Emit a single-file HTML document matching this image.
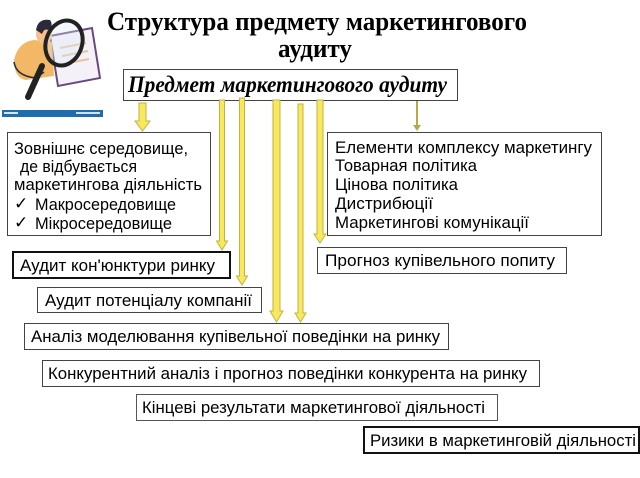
<!DOCTYPE html>
<html><head><meta charset="utf-8"><style>
html,body{margin:0;padding:0;background:#fff;}
svg{display:block;}
.t{font-family:"Liberation Sans","DejaVu Sans",sans-serif;font-size:17px;fill:#000;}
.s{font-family:"Liberation Sans","DejaVu Sans",sans-serif;font-size:16.5px;fill:#000;}
.ar{fill:#f8e95c;stroke:#c2b248;stroke-width:1;}
</style></head><body>
<svg width="640" height="478" viewBox="0 0 640 478" xmlns="http://www.w3.org/2000/svg">
<!-- illustration -->
<g>
  <polygon points="50,36 92,28 100,78 58,86" fill="#f4f2f8" stroke="#6a4a7a" stroke-width="2"/>
  <line x1="60" y1="48" x2="86" y2="43" stroke="#e8c49a" stroke-width="2"/>
  <line x1="62" y1="56" x2="88" y2="51" stroke="#e8c49a" stroke-width="2"/>
  <line x1="63" y1="64" x2="89" y2="59" stroke="#e8c49a" stroke-width="2"/>
  <path d="M14,60 Q18,42 34,40 L52,42 L54,76 L26,80 Q14,78 14,60 Z" fill="#f2b866"/>
  <path d="M14,62 Q16,76 36,78 L44,72" fill="none" stroke="#2a2a3a" stroke-width="1.5"/>
  <ellipse cx="44" cy="34" rx="8" ry="10" fill="#f5c08a"/>
  <path d="M36,30 Q38,18 50,20 Q54,26 48,30 Q44,28 42,34 Z" fill="#2a2a3a"/>
  <line x1="42" y1="66" x2="28" y2="97" stroke="#222" stroke-width="6" stroke-linecap="round"/>
  <ellipse cx="64" cy="43" rx="18" ry="23" transform="rotate(20 64 43)" fill="rgba(220,235,245,0.35)" stroke="#222" stroke-width="4"/>
  <rect x="2" y="110" width="101" height="7" fill="#1f6ea8"/>
  <rect x="4" y="112" width="14" height="2" fill="#cfe2f0"/>
  <rect x="76" y="112" width="24" height="2" fill="#cfe2f0"/>
</g>
<!-- title -->
<text x="317" y="30" text-anchor="middle" textLength="420" lengthAdjust="spacingAndGlyphs" font-family="'Liberation Serif',serif" font-weight="bold" font-size="26">Структура предмету маркетингового</text>
<text x="315" y="57" text-anchor="middle" textLength="74" lengthAdjust="spacingAndGlyphs" font-family="'Liberation Serif',serif" font-weight="bold" font-size="26">аудиту</text>
<!-- main box -->
<rect x="123.5" y="69.5" width="334" height="31" fill="#fff" stroke="#444" stroke-width="1"/>
<text x="128" y="92" textLength="319" lengthAdjust="spacingAndGlyphs" font-family="'Liberation Serif',serif" font-weight="bold" font-style="italic" font-size="23">Предмет маркетингового аудиту</text>
<!-- arrows -->
<polygon class="ar" points="139,103 146,103 146,121 150,121 142.5,131 135,121 139,121"/>
<polygon class="ar" points="219.5,100 224.5,100 224.5,241 227.5,241 222,250 216.5,241 219.5,241"/>
<polygon class="ar" points="239.5,98 244.5,98 244.5,276 247.5,276 242,285 236.5,276 239.5,276"/>
<polygon class="ar" points="273,100 280,100 280,311 283,311 276.5,322 270,311 273,311"/>
<polygon class="ar" points="298,104 303,104 303,313 306,313 300.5,322 295,313 298,313"/>
<polygon class="ar" points="317,100 323,100 323,234 326,234 320,243 314,234 317,234"/>
<line x1="417" y1="101" x2="417" y2="126" stroke="#b9a944" stroke-width="2"/>
<polygon points="413,125 421,125 417,131" fill="#b9a944"/>
<!-- left box -->
<rect x="7.5" y="132.5" width="203" height="103" fill="#fff" stroke="#444" stroke-width="1"/>
<text class="t" x="14" y="154" textLength="174" lengthAdjust="spacingAndGlyphs">Зовнішнє середовище,</text>
<text class="t" x="20" y="172" textLength="117" lengthAdjust="spacingAndGlyphs">де відбувається</text>
<text class="t" x="14" y="190" textLength="188" lengthAdjust="spacingAndGlyphs">маркетингова діяльність</text>
<text class="t" x="14" y="209" font-size="15">✓</text>
<text class="t" x="35" y="210" textLength="141" lengthAdjust="spacingAndGlyphs">Макросередовище</text>
<text class="t" x="14" y="228" font-size="15">✓</text>
<text class="t" x="35" y="229" textLength="137" lengthAdjust="spacingAndGlyphs">Мікросередовище</text>
<!-- right box -->
<rect x="327.5" y="132.5" width="274" height="103" fill="#fff" stroke="#444" stroke-width="1"/>
<text class="t" x="335" y="153" textLength="257" lengthAdjust="spacingAndGlyphs">Елементи комплексу маркетингу</text>
<text class="t" x="335" y="171" textLength="142" lengthAdjust="spacingAndGlyphs">Товарная політика</text>
<text class="t" x="335" y="190" textLength="123" lengthAdjust="spacingAndGlyphs">Цінова політика</text>
<text class="t" x="335" y="209" textLength="98" lengthAdjust="spacingAndGlyphs">Дистрибюції</text>
<text class="t" x="335" y="228" textLength="194" lengthAdjust="spacingAndGlyphs">Маркетингові комунікації</text>
<!-- other boxes -->
<rect x="13" y="252" width="217" height="26" fill="#fff" stroke="#111" stroke-width="2"/>
<text class="t" x="20" y="271" textLength="195" lengthAdjust="spacingAndGlyphs">Аудит кон'юнктури ринку</text>
<rect x="37.5" y="287.5" width="224" height="25" fill="#fff" stroke="#444" stroke-width="1"/>
<text class="t" x="45" y="306" textLength="207" lengthAdjust="spacingAndGlyphs">Аудит потенціалу компанії</text>
<rect x="317.5" y="247.5" width="249" height="26" fill="#fff" stroke="#444" stroke-width="1"/>
<text class="t" x="325" y="266" textLength="230" lengthAdjust="spacingAndGlyphs">Прогноз купівельного попиту</text>
<rect x="24.5" y="323.5" width="424" height="26" fill="#fff" stroke="#444" stroke-width="1"/>
<text class="s" x="31" y="342" textLength="409" lengthAdjust="spacingAndGlyphs">Аналіз моделювання купівельної поведінки на ринку</text>
<rect x="42.5" y="360.5" width="497" height="26" fill="#fff" stroke="#444" stroke-width="1"/>
<text class="s" x="48" y="379" textLength="479" lengthAdjust="spacingAndGlyphs">Конкурентний аналіз і прогноз поведінки конкурента на ринку</text>
<rect x="136.5" y="394.5" width="361" height="26" fill="#fff" stroke="#555" stroke-width="1"/>
<text class="s" x="142" y="413" textLength="343" lengthAdjust="spacingAndGlyphs">Кінцеві результати маркетингової діяльності</text>
<rect x="364" y="427" width="275" height="26" fill="#fff" stroke="#111" stroke-width="2"/>
<text class="s" x="370" y="446" textLength="266" lengthAdjust="spacingAndGlyphs">Ризики в маркетинговій діяльності</text>
</svg>
</body></html>
